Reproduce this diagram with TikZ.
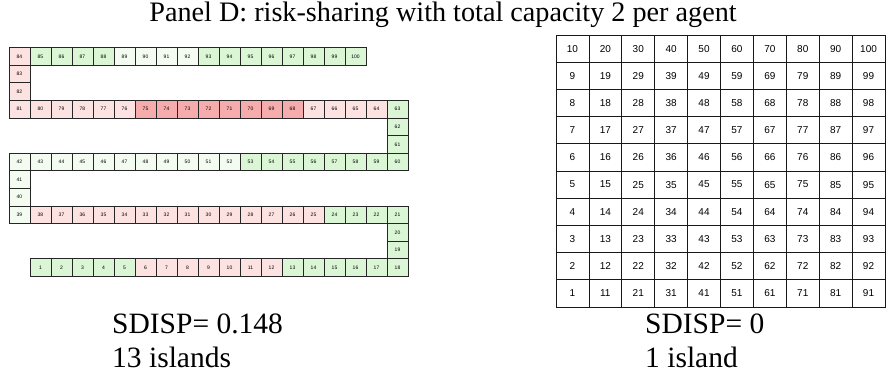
\documentclass[tikz,border=0pt]{standalone}
\usepackage{fontspec}
\setmainfont{Liberation Serif}
\setsansfont{Liberation Sans}

\definecolor{grn}{RGB}{218,246,213}
\definecolor{pnk}{RGB}{253,226,226}
\definecolor{rsk}{RGB}{246,172,172}
\definecolor{pale}{RGB}{244,252,242}

\tikzset{
  cell/.style={draw=black!85,line width=0.7pt,minimum width=21pt,minimum height=17.6pt,
               inner sep=0pt,font=\sffamily\fontsize{5}{6}\selectfont},
  gcell/.style={draw=black!90,line width=0.8pt,minimum width=32.9pt,minimum height=27.2pt,
                inner sep=0pt,font=\sffamily\fontsize{10}{12}\selectfont},
  lbl/.style={anchor=base west,inner sep=0pt,font=\fontsize{29.5}{34}\selectfont}
}

% fill colour of a cell on the chain
\newcommand\pickfill[1]{%
  \ifnum#1<6\relax \def\fillc{grn}\else
  \ifnum#1<13\relax \def\fillc{pnk}\else
  \ifnum#1<25\relax \def\fillc{grn}\else
  \ifnum#1<39\relax \def\fillc{pnk}\else
  \ifnum#1<53\relax \def\fillc{pale}\else
  \ifnum#1<64\relax \def\fillc{grn}\else
  \ifnum#1<68\relax \def\fillc{pnk}\else
  \ifnum#1<76\relax \def\fillc{rsk}\else
  \ifnum#1<85\relax \def\fillc{pnk}\else
  \ifnum#1<89\relax \def\fillc{grn}\else
  \ifnum#1<93\relax \def\fillc{pale}\else
  \def\fillc{grn}\fi\fi\fi\fi\fi\fi\fi\fi\fi\fi\fi}

% cell #1 of the chain at column #2, row #3 (row 0 at the bottom)
\newcommand\snakecell[3]{%
  \pickfill{#1}%
  \node[cell,fill=\fillc] (s#1) at ({19.5+21*(#2)},{267.5-17.6*(#3)}) {#1};}

\begin{document}
\begin{tikzpicture}[x=1pt,y=-1pt]
\useasboundingbox (0,0) rectangle (886,375);

\node[font=\fontsize{28.2}{32}\selectfont,anchor=base] (title) at (443,21)
  {Panel D: risk-sharing with total capacity 2 per agent};

% chain of 100 agents
\foreach \n in {1,...,18} {\snakecell{\n}{\n}{0}}
\foreach \n in {19,20} {\snakecell{\n}{18}{\n-18}}
\foreach \n in {21,...,39} {\snakecell{\n}{39-\n}{3}}
\foreach \n in {40,41} {\snakecell{\n}{0}{\n-36}}
\foreach \n in {42,...,60} {\snakecell{\n}{\n-42}{6}}
\foreach \n in {61,62} {\snakecell{\n}{18}{\n-54}}
\foreach \n in {63,...,81} {\snakecell{\n}{81-\n}{9}}
\foreach \n in {82,83} {\snakecell{\n}{0}{\n-72}}
\foreach \n in {84,...,100} {\snakecell{\n}{\n-84}{12}}

% 10 x 10 grid
\foreach \c in {0,...,9}
  \foreach \r in {1,...,10} {
    \pgfmathtruncatemacro\k{10*\c+\r}
    \node[gcell] (g\k) at ({572.45+32.9*\c},{48.6+27.2*(10-\r)}) {\k};
  }

%labels
\node[lbl] (sdleft) at (112,333) {SDISP= 0.148};
\node[lbl] (islleft) at (112,367) {13 islands};
\node[lbl] (sdright) at (645,333) {SDISP= 0};
\node[lbl] (islright) at (645,367) {1 island};

\end{tikzpicture}
\end{document}
